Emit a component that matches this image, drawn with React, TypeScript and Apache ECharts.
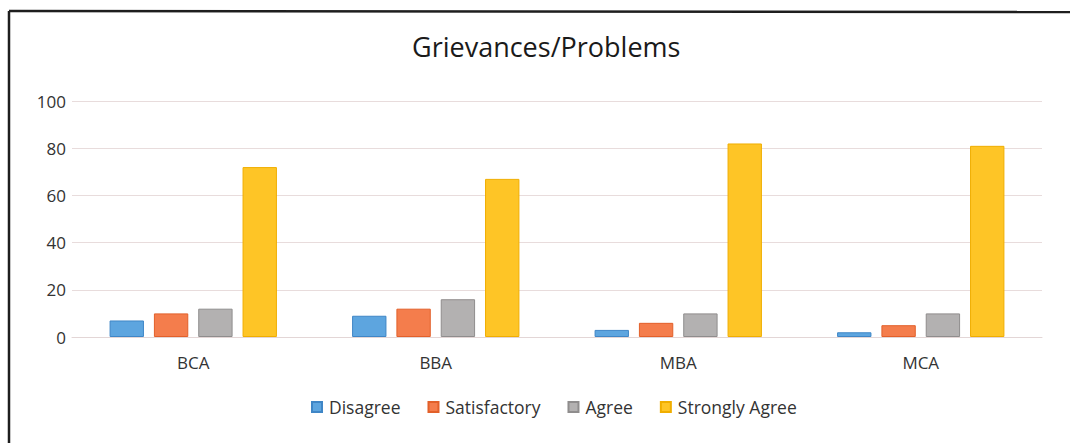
import React, { useEffect, useRef } from "react";
import * as echarts from "echarts";

const categories = ["BCA", "BBA", "MBA", "MCA"];
const seriesNames = ["Disagree", "Satisfactory", "Agree", "Strongly Agree"];
const disagree = [7, 9, 3, 2];
const satisfactory = [10, 12, 6, 5];
const agree = [12, 16, 10, 10];
const stronglyAgree = [72, 67, 82, 81];
const yTicks = [0, 20, 40, 60, 80, 100];

const colors = ["#5DA5DF", "#F47D4C", "#B3B1B1", "#FEC526"];
const borders = ["#3F86C6", "#E2602A", "#8F8D8D", "#F0AE00"];

export default function App() {
  const ref = useRef<HTMLDivElement>(null);
  useEffect(() => {
    if (!ref.current) return;
    const chart = echarts.init(ref.current, undefined, { renderer: "svg" });
    const values = [disagree, satisfactory, agree, stronglyAgree];
    const font = "'Open Sans', 'Noto Sans', sans-serif";
    chart.setOption({
      animation: false,
      backgroundColor: "#ffffff",
      title: {
        text: "Grievances/Problems",
        left: 407,
        top: 28,
        textStyle: { fontFamily: font, fontSize: 27, fontWeight: "normal", color: "#1a1a1a" },
      },
      grid: { left: 72, right: 28, top: 101, bottom: 106, containLabel: false },
      legend: {
        data: seriesNames,
        bottom: 22,
        left: 306,
        itemWidth: 10,
        itemHeight: 10,
        itemGap: 27,
        icon: "rect",
        textStyle: { fontFamily: font, fontSize: 17.5, color: "#333", padding: [0, 0, 0, 2] },
      },
      xAxis: {
        type: "category",
        data: categories,
        axisLine: { lineStyle: { color: "#e3d6d6" } },
        axisTick: { show: false },
        axisLabel: { fontFamily: font, fontSize: 17, color: "#333", margin: 17 },
      },
      yAxis: {
        type: "value",
        min: yTicks[0],
        max: yTicks[yTicks.length - 1],
        interval: 20,
        axisLine: { show: false },
        axisTick: { show: false },
        axisLabel: { fontFamily: font, fontSize: 17, color: "#333", margin: 6 },
        splitLine: { lineStyle: { color: "#e8dcdc", width: 1 } },
      },
      series: seriesNames.map((name, i) => ({
        name,
        type: "bar",
        data: values[i],
        barGap: "29%",
        barCategoryGap: "31%",
        itemStyle: { color: colors[i], borderColor: borders[i], borderWidth: 1 },
      })),
      graphic: [
        { type: "line", shape: { x1: 9, y1: 11, x2: 9, y2: 443 }, style: { stroke: "#1e1e1e", lineWidth: 2.5 } },
        { type: "line", shape: { x1: 9, y1: 11, x2: 1070, y2: 12 }, style: { stroke: "#1e1e1e", lineWidth: 2.5 } },
      ],
    });
    return () => chart.dispose();
  }, []);
  return (
    <div
      ref={ref}
      style={{ position: "absolute", left: 0, top: 0, width: 1070, height: 443 }}
    />
  );
}
